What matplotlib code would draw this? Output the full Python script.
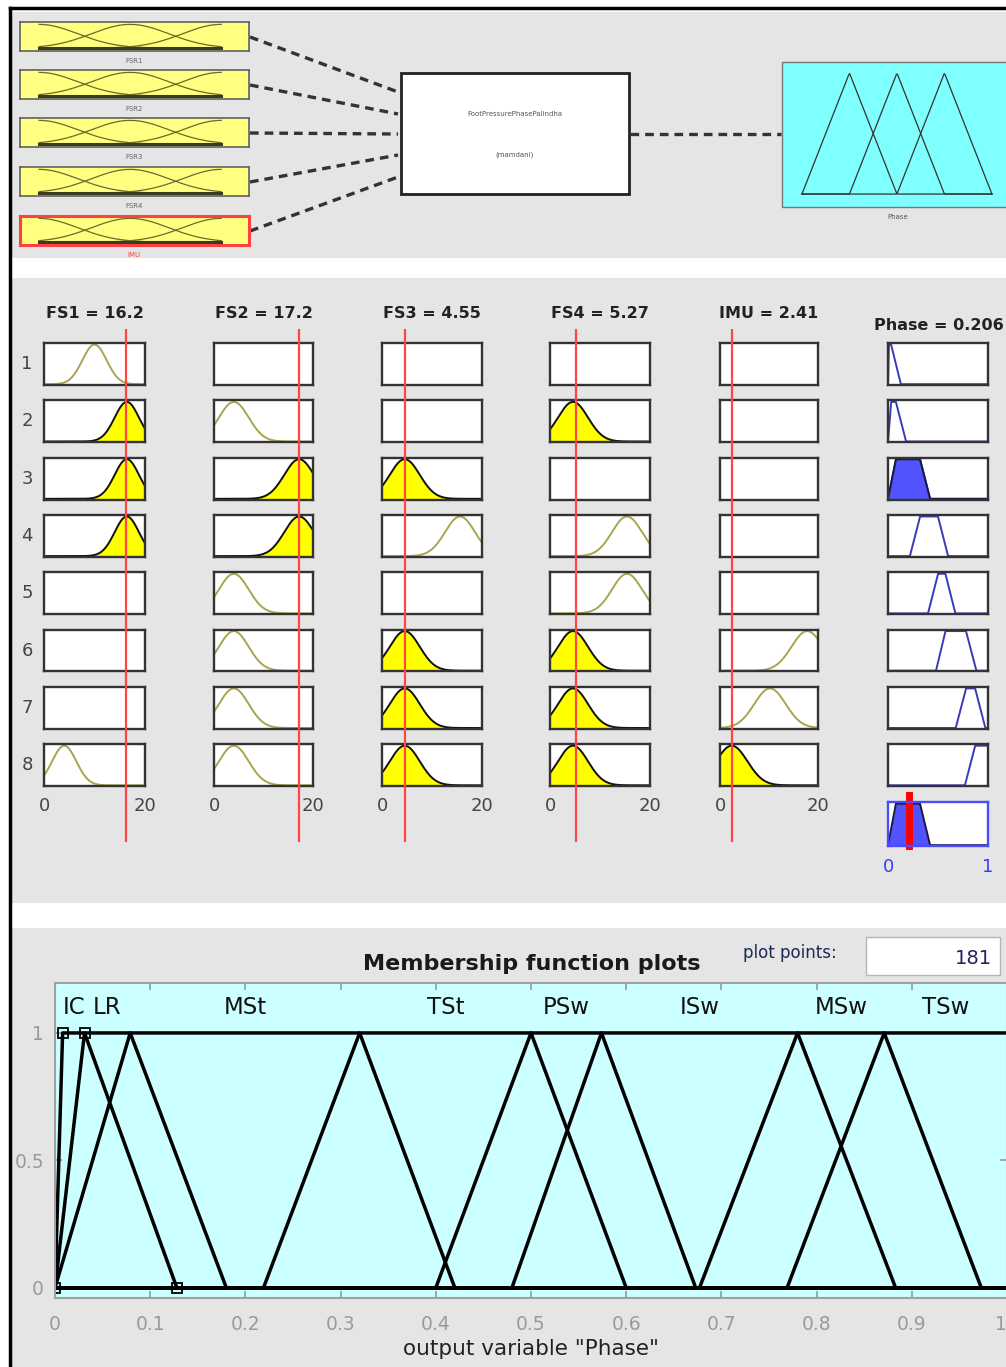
"""fuzzy inference system: diagram, rule viewer and output membership functions"""
import numpy as np
import matplotlib
matplotlib.use("Agg")
import matplotlib.pyplot as plt
from matplotlib.patches import Rectangle

W, H = 1006, 1367

INPUT_NAMES = ["FS1", "FS2", "FS3", "FS4", "IMU"]
DIAGRAM_NAMES = ["FSR1", "FSR2", "FSR3", "FSR4", "IMU"]
INPUT_VALUES = [16.2, 17.2, 4.55, 5.27, 2.41]
INPUT_RANGE = [0, 20]

# gaussian centres (low, medium, high) and widths of every input
FS1_CENTERS = [4.0, 10.0, 16.4]
FS2_CENTERS = [4.0, 10.0, 17.2]
FS3_CENTERS = [4.55, 10.0, 15.6]
FS4_CENTERS = [4.6, 10.0, 15.4]
IMU_CENTERS = [2.4, 10.2, 17.8]
INPUT_SIGMAS = [2.4, 3.0, 3.0, 3.0, 3.2]

OUTPUT_NAME = "Phase"
OUTPUT_VALUE = 0.206
OUTPUT_RANGE = [0, 1]
PHASE_LABELS = ["IC", "LR", "MSt", "TSt", "PSw", "ISw", "MSw", "TSw"]
IC = [0.0, 0.008, 0.031, 0.128]
LR = [0.0, 0.031, 0.079, 0.18]
MST = [0.0, 0.079, 0.32, 0.42]
TST = [0.219, 0.32, 0.50, 0.60]
PSW = [0.40, 0.50, 0.574, 0.673]
ISW = [0.48, 0.574, 0.78, 0.883]
MSW = [0.677, 0.78, 0.871, 0.973]
TSW = [0.769, 0.871, 1.0, 1.0]
PLOT_POINTS = 181

# 0 = not used, 1 = low, 2 = medium, 3 = high
RULE_INPUTS = [
    [2, 0, 0, 0, 0],
    [3, 1, 0, 1, 0],
    [3, 3, 1, 0, 0],
    [3, 3, 3, 3, 0],
    [0, 1, 0, 3, 0],
    [0, 1, 1, 1, 3],
    [0, 1, 1, 1, 2],
    [1, 1, 1, 1, 1],
]
RULE_OUTPUTS = [0, 1, 2, 3, 4, 5, 6, 7]

GRAY = "#e5e5e5"
OLIVE = "#a9a450"
MF_BLUE = "#3a3ab8"
FILL_BLUE = "#5252ff"


def gaussmf(x, c, s):
    """gaussian membership"""
    return np.exp(-(x - c) ** 2 / (2 * s * s))


def trapmf(x, p):
    """trapezoid membership"""
    a, b, c, d = p
    up = np.ones_like(x) if b == a else (x - a) / (b - a)
    down = np.ones_like(x) if d == c else (d - x) / (d - c)
    return np.clip(np.minimum(up, down), 0, 1)


fig = plt.figure(figsize=(W / 100, H / 100), dpi=100)
bg = fig.add_axes([0, 0, 1, 1])
bg.set_xlim(0, W)
bg.set_ylim(H, 0)
bg.axis("off")


def px_axes(x0, y0, x1, y1):
    """axes placed by pixel box"""
    return fig.add_axes([x0 / W, 1 - y1 / H, (x1 - x0) / W, (y1 - y0) / H])


def box_style(ax, xlim, edge="#333333"):
    ax.set_xlim(*xlim)
    ax.set_ylim(-0.02, 1.04)
    ax.set_xticks([])
    ax.set_yticks([])
    ax.set_facecolor("white")
    for sp in ax.spines.values():
        sp.set_color(edge)
        sp.set_linewidth(1.7)


# panels and outer frame
for y0, y1 in [(12, 258), (278, 903), (928, H)]:
    bg.add_patch(Rectangle((12, y0), W - 12, y1 - y0, fc=GRAY, ec="none"))
bg.plot([10, 10], [8, H], color="black", lw=2.5)
bg.plot([10, W], [8, 8], color="black", lw=2.5)

# ---- system diagram ----
input_tops = [22, 70, 118, 167, 216]
ends = [92, 114, 134, 155, 177]
xs = np.linspace(0, 1, 200)
for name, top, end in zip(DIAGRAM_NAMES, input_tops, ends):
    is_imu = name == "IMU"
    ax = px_axes(20, top, 249, top + 29)
    ax.set_xlim(-0.105, 1.153)
    ax.set_ylim(-0.12, 1.1)
    ax.set_xticks([])
    ax.set_yticks([])
    ax.set_facecolor("#ffff80")
    for sp in ax.spines.values():
        sp.set_color("#ff4040" if is_imu else "#606060")
        sp.set_linewidth(2.2 if is_imu else 1.2)
    for c in [0.0, 0.5, 1.0]:
        ax.plot(xs, gaussmf(xs, c, 0.212), color="#6b6a30", lw=0.9)
    ax.plot([0, 1], [0, 0], color="#3b3b20", lw=2.2)
    bg.text(134, top + 39, name, fontsize=5, ha="center", va="center",
            color="#ff4040" if is_imu else "#666666")
    bg.plot([250, 398], [top + 15, end], color="#333333", lw=2.4,
            ls=(0, (2.6, 1.8)))

bg.add_patch(Rectangle((401, 73), 228, 121, fc="white", ec="#222222", lw=2))
bg.text(515, 114, "FootPressurePhasePalindha", fontsize=5, ha="center",
        va="center", color="#555555")
bg.text(515, 155, "(mamdani)", fontsize=5, ha="center", va="center",
        color="#555555")
bg.plot([630, 781], [134, 134], color="#333333", lw=2.4, ls=(0, (2.6, 1.8)))

bg.add_patch(Rectangle((782, 62), 240, 145, fc="#80ffff", ec="#777777", lw=1))
ax = px_axes(782, 62, 1006, 207)
ax.set_xlim(-0.105, 1.074)
ax.set_ylim(-0.107, 1.091)
ax.axis("off")
for c in [0.25, 0.5, 0.75]:
    ax.plot(xs, trapmf(xs, [c - 0.25, c, c, c + 0.25]), color="#333333", lw=0.9)
bg.text(898, 217, OUTPUT_NAME, fontsize=5, ha="center", va="center",
        color="#555555")

# ---- rule viewer ----
COL_X = [(44, 145), (214, 313), (382, 482), (550, 650), (720, 818), (888, 988)]
row_tops = 343 + 57.3 * np.arange(len(RULE_INPUTS))
all_centers = [FS1_CENTERS, FS2_CENTERS, FS3_CENTERS, FS4_CENTERS, IMU_CENTERS]
xi = np.linspace(INPUT_RANGE[0], INPUT_RANGE[1], 400)
xo = np.linspace(OUTPUT_RANGE[0], OUTPUT_RANGE[1], 1001)
output_mfs = [IC, LR, MST, TST, PSW, ISW, MSW, TSW]

for i, top in enumerate(row_tops):
    bg.text(27, top + 21, str(i + 1), fontsize=13, ha="center", va="center",
            color="#444444")

for j, (x0, x1) in enumerate(COL_X[:5]):
    centers, sig, val = all_centers[j], INPUT_SIGMAS[j], INPUT_VALUES[j]
    bg.text((x0 + x1) / 2, 313, f"{INPUT_NAMES[j]} = {val}", fontsize=11.5,
            fontweight="bold", ha="center", va="center", color="#222222")
    for i, top in enumerate(row_tops):
        ax = px_axes(x0, top, x1, top + 42)
        box_style(ax, INPUT_RANGE)
        k = RULE_INPUTS[i][j]
        if k:
            y = gaussmf(xi, centers[k - 1], sig)
            if gaussmf(val, centers[k - 1], sig) > 0.5:
                ax.fill_between(xi, y, color="#ffff00", lw=0)
                ax.plot(xi, y, color="#111111", lw=1.4)
            else:
                ax.plot(xi, y, color=OLIVE, lw=1.4)
        if i == len(row_tops) - 1:
            ax.set_xticks(INPUT_RANGE)
            ax.tick_params(length=0, pad=8, labelsize=13, labelcolor="#444444")
    over = px_axes(x0, 329, x1, 842)
    over.set_xlim(*INPUT_RANGE)
    over.axis("off")
    over.axvline(val, color="#ff4545", lw=1.6)

# rule firing and output column
firing = []
for i, row in enumerate(RULE_INPUTS):
    degs = [gaussmf(INPUT_VALUES[j], all_centers[j][k - 1], INPUT_SIGMAS[j])
            for j, k in enumerate(row) if k]
    firing.append(min(degs))

ox0, ox1 = COL_X[5]
bg.text(939, 326, f"{OUTPUT_NAME} = {OUTPUT_VALUE}", fontsize=11.5,
        fontweight="bold", ha="center", va="center", color="#222222")
aggregated = np.zeros_like(xo)
for i, top in enumerate(row_tops):
    ax = px_axes(ox0, top, ox1, top + 42)
    box_style(ax, OUTPUT_RANGE)
    y = trapmf(xo, output_mfs[RULE_OUTPUTS[i]])
    ax.plot(xo, y, color=MF_BLUE, lw=1.4)
    if firing[i] > 0.05:
        clipped = np.minimum(y, firing[i])
        ax.fill_between(xo, clipped, color=FILL_BLUE, lw=0)
        ax.plot(xo, clipped, color="#1a1a40", lw=1.4)
        aggregated = np.maximum(aggregated, clipped)

ax = px_axes(ox0, 802, ox1, 846)
box_style(ax, OUTPUT_RANGE, edge="#4a4aff")
ax.fill_between(xo, aggregated, color=FILL_BLUE, lw=0)
ax.plot(xo, aggregated, color="#1a1a40", lw=1.4)
ax.axvline(OUTPUT_VALUE, ymin=0, ymax=1.15, color="#ff0000", lw=5,
           clip_on=False)
ax.set_xticks(OUTPUT_RANGE)
ax.tick_params(length=0, pad=9, labelsize=13, labelcolor="#3a3aff")

# ---- membership function plots ----
bg.text(532, 964, "Membership function plots", fontsize=16, fontweight="bold",
        ha="center", va="center", color="#1a1a1a")
bg.text(790, 953, "plot points:", fontsize=12, ha="center", va="center",
        color="#1c2a55")
bg.add_patch(Rectangle((866, 937), 134, 38, fc="white", ec="#b5b5b5", lw=1))
bg.text(992, 958, str(PLOT_POINTS), fontsize=14, ha="right", va="center",
        color="#2b1f5c")

ax = px_axes(55, 983, 1007, 1298)
ax.set_facecolor("#ccffff")
ax.set_xlim(*OUTPUT_RANGE)
ax.set_ylim(-0.04, 1.196)
for p, lab in zip(output_mfs, PHASE_LABELS):
    ax.plot(xo, trapmf(xo, p), color="black", lw=2.5)
    ax.text((p[1] + p[2]) / 2, 1.098, lab, fontsize=16.5, ha="center",
            va="center", color="#111111")
ax.plot(IC, [0, 1, 1, 0], ls="none", marker="s", ms=7, mfc="none",
        mec="black", mew=1.3)
ax.set_xticks(np.round(np.arange(0, 1.01, 0.1), 1))
ax.set_xticklabels(["0", "0.1", "0.2", "0.3", "0.4", "0.5", "0.6", "0.7",
                    "0.8", "0.9", "1"])
ax.set_yticks([0, 0.5, 1])
ax.set_yticklabels(["0", "0.5", "1"])
ax.tick_params(direction="in", top=True, right=True, length=5, width=1.2,
               color="#999999", labelsize=13.5, labelcolor="#9a9a9a")
ax.tick_params(axis="x", pad=12)
ax.tick_params(axis="y", pad=8)
# the last tick sits on the figure edge, so its label hangs to the left
ax.get_xticklabels()[-1].set_horizontalalignment("right")
for sp in ax.spines.values():
    sp.set_color("#a0a0a0")
    sp.set_linewidth(1.5)
ax.set_xlabel(f'output variable "{OUTPUT_NAME}"', fontsize=15.5,
              color="#222222", labelpad=4)

fig.savefig("out.png", dpi=100)
